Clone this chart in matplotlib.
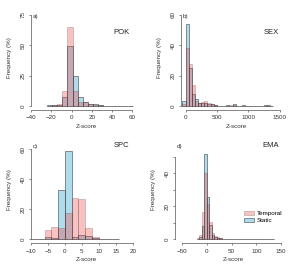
import matplotlib
matplotlib.use("Agg")
import matplotlib.pyplot as plt
import matplotlib.patches as patches
import numpy as np

plt.rcParams['font.family'] = ['Liberation Sans', 'DejaVu Sans']

W, H = 293, 268

# ---- data (frequency in %, histogram bins) ----
pok_start, pok_width = -24, 5
pok_temporal = [0.3, 0.5, 1.3, 12.4, 65.4, 12.4, 3.0, 3.0, 2.0, 1.0, 0.6, 0.3, 0.2, 0.1, 0.2, 0.1, 0.2]
pok_static = [0.6, 0.5, 0.8, 7.7, 49.5, 25.0, 7.1, 3.0, 2.0, 1.5, 0.6, 0.3, 0.2, 0.2, 0.1, 0.2, 0.2]

sex_start, sex_width = -50, 50
sex_temporal = [1.5, 38.0, 28.0, 13.8, 3.3, 2.2, 2.9, 3.3, 1.8, 1.5, 0.5, 0.3, 0.2, 0.1, 0.3,
                0.5, 0.5, 0.0, 0.2, 0.3, 0.0, 0.0, 0.0, 0.0, 0.0, 0.0, 0.2, 0.3, 0.0]
sex_static = [3.0, 53.8, 25.0, 8.0, 4.6, 2.2, 1.8, 2.2, 1.5, 1.0, 0.5, 0.2, 0.2, 0.0, 0.5,
              0.3, 1.2, 0.0, 0.2, 0.5, 0.0, 0.0, 0.0, 0.0, 0.0, 0.0, 0.5, 0.8, 0.0]

spc_start, spc_width = -10, 2
spc_temporal = [0.2, 0.2, 6.0, 7.8, 7.6, 17.2, 27.2, 26.5, 7.1, 1.3, 0.3, 0.1, 0.1]
spc_static = [0.2, 0.2, 1.1, 0.4, 32.8, 58.9, 1.1, 2.9, 2.0, 0.5, 0.2, 0.1, 0.1]

ema_start, ema_width = -20, 5
ema_temporal = [0.5, 2.6, 16.8, 40.0, 21.4, 10.7, 3.6, 2.0, 1.2, 0.8,
                0.3, 0.3, 0.2, 0.3, 0.2, 0.2, 0.2, 0.1, 0.2, 0.1, 0.1,
                0.1, 0.2, 0.1, 0.1, 0.1, 0.1, 0.1, 0.1, 0.1, 0.1]
ema_static = [0.3, 1.2, 8.0, 51.7, 25.5, 8.5, 2.5, 1.2, 0.8, 0.5,
              0.2, 0.3, 0.2, 0.2, 0.2, 0.1, 0.2, 0.1, 0.1, 0.1, 0.1,
              0.1, 0.1, 0.1, 0.1, 0.1, 0.1, 0.1, 0.1, 0.1, 0.1]

panels = [
    # name, letter, start, width, temporal, static, xticks, yticks, ylabeled
    ("POK", "a)", pok_start, pok_width, pok_temporal, pok_static,
     [-40, -20, 0, 20, 40, 60], [0, 25, 50, 75], [0, 25, 50, 75]),
    ("SEX", "b)", sex_start, sex_width, sex_temporal, sex_static,
     [0, 500, 1000, 1500], [0, 20, 40, 60], [0, 20, 40, 60]),
    ("SPC", "c)", spc_start, spc_width, spc_temporal, spc_static,
     [-10, -5, 0, 5, 10, 15, 20], [0, 20, 40, 60], [0, 20, 40, 60]),
    ("EMA", "d)", ema_start, ema_width, ema_temporal, ema_static,
     [-50, 0, 50, 100, 150], [0, 10, 20, 30, 40, 50], [0, 20, 40]),
]

# pixel layout: (x value anchors -> px), (y value anchors -> px), box (l, r, t, b)
layout = [
    ((-40, 60), (31, 132.3), (0, 75), (106, 15), (31, 135, 10, 110)),
    ((0, 1500), (185.5, 279.5), (0, 60), (106, 15), (181, 285, 10, 110)),
    ((-10, 20), (31, 132.7), (0, 60), (239, 149.3), (31, 135, 140, 243.3)),
    ((-50, 150), (182, 281), (0, 40), (239.3, 173.3), (175, 285, 140, 243.3)),
]

red = (0.95, 0.25, 0.25)
blue = (0.58, 0.82, 0.90)
red_alpha, blue_alpha = 0.32, 0.75
edge = (0.2, 0.2, 0.2)

fig = plt.figure(figsize=(W / 100, H / 100), dpi=100)

def fpos(x, y):
    return x / W, 1 - y / H

for (name, letter, start, width, temporal, static, xticks, yticks, ylab), \
        (xv, xp, yv, yp, box) in zip(panels, layout):
    l, r, t, b = box
    ax = fig.add_axes([l / W, 1 - b / H, (r - l) / W, (b - t) / H])
    sx = (xp[1] - xp[0]) / (xv[1] - xv[0])
    sy = (yp[0] - yp[1]) / (yv[1] - yv[0])
    ax.set_xlim(xv[0] + (l - xp[0]) / sx, xv[0] + (r - xp[0]) / sx)
    ax.set_ylim(yv[0] - (b - yp[0]) / sy, yv[0] + (yp[0] - t) / sy)

    left_edges = start + width * np.arange(len(temporal))
    ax.bar(left_edges, static, width=width, align='edge', color=blue,
           alpha=blue_alpha, edgecolor=edge, linewidth=0.5)
    ax.bar(left_edges, temporal, width=width, align='edge', color=red,
           alpha=red_alpha, edgecolor=edge, linewidth=0.5)

    for s in ['top', 'right']:
        ax.spines[s].set_visible(False)
    for s in ['left', 'bottom']:
        ax.spines[s].set_linewidth(0.5)
        ax.spines[s].set_color('#555555')
    ax.spines['bottom'].set_bounds(xticks[0], xticks[-1])
    ax.spines['left'].set_bounds(yticks[0], yticks[-1])
    ax.set_xticks(xticks)
    ax.set_yticks(yticks)
    ax.set_yticklabels([str(v) if v in ylab else "" for v in yticks])
    ax.tick_params(length=1.6, width=0.5, color='#555555', labelsize=4.5,
                   labelcolor='#333333', pad=2.2)
    for lbl in ax.get_yticklabels():
        lbl.set_rotation(90)
        lbl.set_va('center')

    ax.text(0.02, 0.96, letter, transform=ax.transAxes, fontsize=4.5,
            color='#333333', va='top', ha='left')
    ax.text(0.87, 0.78 if letter in ("a)", "b)") else 0.95, name,
            transform=ax.transAxes, fontsize=5.5, color='#222222',
            va='center', ha='center')

    # axis titles
    xmid = (l + r) / 2 + 3
    fig.text(*fpos(xmid, b + 16.5), "Z-score", fontsize=4.5, color='#333333',
             ha='center', va='center')
    fig.text(*fpos(l - 21, (t + b) / 2 - 2), "Frequency (%)", fontsize=4.5,
             color='#333333', ha='center', va='center', rotation=90)

    if name == "EMA":
        handles = [patches.Patch(facecolor=red, alpha=red_alpha, edgecolor=edge, linewidth=0.5),
                   patches.Patch(facecolor=blue, alpha=blue_alpha, edgecolor=edge, linewidth=0.5)]
        ax.legend(handles, ["Temporal", "Static"], loc='center left',
                  bbox_to_anchor=fpos(238, 217), bbox_transform=fig.transFigure,
                  frameon=False, fontsize=4.5, handlelength=1.7, handleheight=0.5,
                  handletextpad=0.4, labelspacing=0.3)

fig.savefig("out.png", dpi=100)
